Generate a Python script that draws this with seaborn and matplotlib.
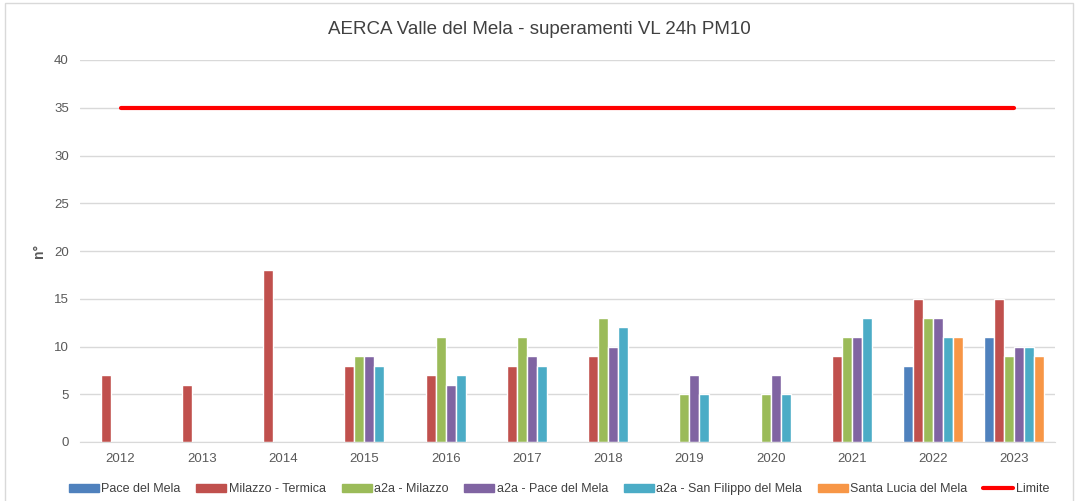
import matplotlib.pyplot as plt
import matplotlib.patches as mpatches
from matplotlib.lines import Line2D
import seaborn as sns
import pandas as pd
import numpy as np

years = ["2012", "2013", "2014", "2015", "2016", "2017",
         "2018", "2019", "2020", "2021", "2022", "2023"]
pace_del_mela = [np.nan] * 10 + [8, 11]
milazzo_termica = [7, 6, 18, 8, 7, 8, 9, np.nan, np.nan, 9, 15, 15]
a2a_milazzo = [np.nan, np.nan, np.nan, 9, 11, 11, 13, 5, 5, 11, 13, 9]
a2a_pace = [np.nan, np.nan, np.nan, 9, 6, 9, 10, 7, 7, 11, 13, 10]
a2a_san_filippo = [np.nan, np.nan, np.nan, 8, 7, 8, 12, 5, 5, 13, 11, 10]
santa_lucia = [np.nan] * 10 + [11, 9]
limite = [35] * 12

series = {
    "Pace del Mela": pace_del_mela,
    "Milazzo - Termica": milazzo_termica,
    "a2a - Milazzo": a2a_milazzo,
    "a2a - Pace del Mela": a2a_pace,
    "a2a - San Filippo del Mela": a2a_san_filippo,
    "Santa Lucia del Mela": santa_lucia,
}
colors = ["#4F81BD", "#C0504D", "#9BBB59", "#8064A2", "#4BACC6", "#F79646"]

rows = []
for name, vals in series.items():
    for y, v in zip(years, vals):
        rows.append({"anno": y, "stazione": name, "n": v})
df = pd.DataFrame(rows)

sns.set_style("white")
plt.rcParams["font.family"] = ["Liberation Sans", "DejaVu Sans"]

fig = plt.figure(figsize=(10.79, 5.01), dpi=100)
ax = fig.add_axes([80 / 1079, 1 - 442 / 501, 975 / 1079, 382 / 501])

# chart frame
fig.patches.append(mpatches.Rectangle((5 / 1079, -0.01), 1068 / 1079, 1 - 3 / 501 + 0.01,
                                      transform=fig.transFigure, fill=False,
                                      edgecolor="#D9D9D9", linewidth=1))

sns.barplot(data=df, x="anno", y="n", hue="stazione", order=years,
            hue_order=list(series.keys()), palette=colors, width=0.74,
            dodge=True, ax=ax, legend=False, saturation=1)

ax.plot(np.arange(len(years)), limite, color="#FF0000", linewidth=3, zorder=3)

ax.set_xlim(-0.5, len(years) - 0.5)
ax.set_ylim(0, 40)
ax.set_yticks(range(0, 41, 5))
ax.yaxis.grid(True, color="#D9D9D9", linewidth=1)
ax.set_axisbelow(True)
for s in ["top", "right", "left"]:
    ax.spines[s].set_visible(False)
ax.spines["bottom"].set_color("#D9D9D9")
ax.tick_params(axis="both", length=0, labelsize=9.5, colors="#595959", pad=8)
ax.set_xlabel("")
ax.set_ylabel("n°", fontsize=10, color="#595959", fontweight="bold", labelpad=6)
fig.text(0.5, 1 - 30 / 501, "AERCA Valle del Mela - superamenti VL 24h PM10",
         ha="center", va="center", fontsize=13.5, color="#404040")

handles = [mpatches.Patch(color=c, label=n) for n, c in zip(series.keys(), colors)]
handles.append(Line2D([0], [0], color="#FF0000", linewidth=3, label="Limite"))
fig.legend(handles=handles, loc="center", bbox_to_anchor=(0.518, 1 - 489 / 501),
           ncol=7, frameon=False, fontsize=9, handlelength=2.4, handleheight=0.6,
           handletextpad=0.2, columnspacing=1.25, labelcolor="#404040")

fig.savefig("out.png", dpi=100)
